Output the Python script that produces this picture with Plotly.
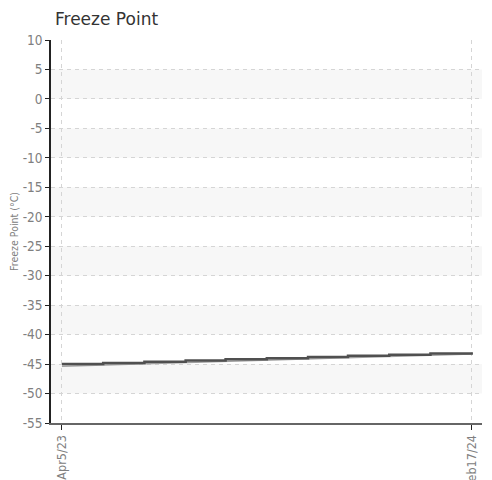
import plotly.graph_objects as go

# Data
reading_dates = ["2023-04-05", "2023-05-07", "2023-06-08", "2023-07-10", "2023-08-10",
                 "2023-09-11", "2023-10-13", "2023-11-13", "2023-12-15", "2024-01-16", "2024-02-17"]
reading_values = [-45.0, -44.8, -44.6, -44.4, -44.2, -44.0, -43.8, -43.6, -43.4, -43.2, -43.0]
trend_dates = ["2023-04-05", "2024-02-17"]
trend_values = [-45.35, -43.3]
y_ticks = [10, 5, 0, -5, -10, -15, -20, -25, -30, -35, -40, -45, -50, -55]
x_tickvals = ["2023-04-05", "2024-02-17"]
x_ticktext = ["Apr5/23", "Feb17/24"]

cond = "DejaVu Sans Condensed, Liberation Sans Narrow, sans-serif"
tick_font = dict(family=cond, size=13.5, color="#808080")
xtick_font = dict(family=cond, size=12.5, color="#808080")

fig = go.Figure()

# alternating bands
shapes = []
ys = sorted(y_ticks, reverse=True)
for i in range(len(ys) - 1):
    if i % 2 == 1:
        shapes.append(dict(type="rect", xref="paper", yref="y", x0=0, x1=1,
                           y0=ys[i + 1], y1=ys[i], fillcolor="#f7f7f7",
                           line=dict(width=0), layer="below"))

fig.add_trace(go.Scatter(x=trend_dates, y=trend_values, mode="lines",
                         line=dict(color="#a0a0a0", width=1.5), hoverinfo="skip"))
fig.add_trace(go.Scatter(x=reading_dates, y=reading_values, mode="lines",
                         line=dict(color="#505050", width=2.5, shape="hv")))

fig.update_layout(
    width=492, height=480,
    margin=dict(l=43, r=18, t=32, b=65),
    plot_bgcolor="white", paper_bgcolor="white",
    showlegend=False,
    shapes=shapes,
    title=dict(text="Freeze Point", x=0, xref="paper", xanchor="left", y=0.99, yanchor="top",
               font=dict(family="DejaVu Sans", size=17, color="#333333"), pad=dict(l=4)),
)

fig.update_xaxes(
    type="date",
    range=["2023-03-27 12:00", "2024-02-25"],
    tickvals=x_tickvals, ticktext=x_ticktext, tickangle=-90,
    tickfont=xtick_font,
    showgrid=True, gridcolor="#d5d5d5", griddash="4px,4px", gridwidth=1,
    showline=True, linecolor="#666666", linewidth=2,
    ticks="outside", ticklen=5, tickcolor="#222222",
    zeroline=False, automargin=False,
)
fig.update_yaxes(
    range=[-55, 10],
    tickvals=y_ticks, ticktext=[str(v) for v in y_ticks],
    tickfont=tick_font,
    showgrid=True, gridcolor="#d5d5d5", griddash="4px,4px", gridwidth=1,
    showline=True, linecolor="#222222", linewidth=1.5,
    ticks="outside", ticklen=4, tickcolor="#222222",
    zeroline=False, automargin=False,
    title=dict(text="Freeze Point (°C)", font=dict(family=cond, size=10.5, color="#808080"), standoff=4),
)

fig.write_html("out.html")
